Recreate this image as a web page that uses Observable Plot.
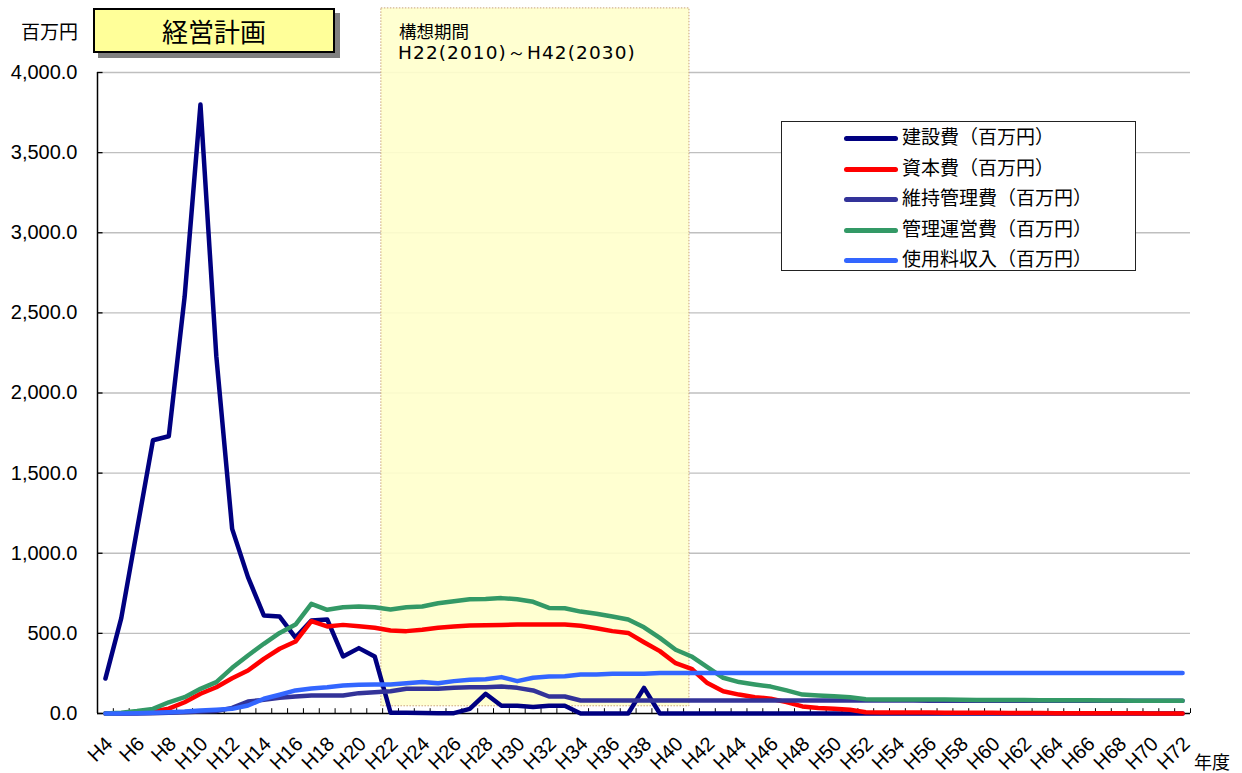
<!DOCTYPE html>
<html>
<head>
<meta charset="utf-8">
<script src="https://cdn.jsdelivr.net/npm/d3@7"></script>
<script src="https://cdn.jsdelivr.net/npm/@observablehq/plot@0.6"></script>
<style>
  body { margin: 0; background: #fff; }
  #wrap { position: relative; width: 1242px; height: 773px; overflow: hidden; font-family: "Noto Sans CJK JP", sans-serif; }
  #chart { position: absolute; left: 0; top: 0; }
  .abs { position: absolute; white-space: nowrap; }
  #titlebox { left: 93px; top: 8px; width: 238px; height: 41px; border: 2px solid #000; background: #ffff99;
    box-shadow: 5px 5px 0 #808080; font-size: 26px; line-height: 41px; text-align: center; }
  #unit { left: 21px; top: 17px; font-size: 19px; line-height: 28px; }
  #nendo { left: 1194px; top: 748px; font-size: 18px; line-height: 26px; }
  #band1 { left: 399px; top: 18px; font-size: 17.5px; line-height: 26px; }
  #band2 { left: 398px; top: 41px; font-size: 18.5px; line-height: 24px; letter-spacing: 1.1px; font-family: "DejaVu Sans", sans-serif; }
  #legend { left: 781px; top: 121px; width: 353px; height: 148px; border: 1px solid #222; background: #fff; }
  .lrow { position: absolute; left: 0; height: 30px; width: 353px; }
  .lline { position: absolute; left: 62px; width: 54px; height: 5px; border-radius: 3px; }
  .ltext { position: absolute; left: 120px; font-size: 19px; line-height: 30px; top: -2px; }
</style>
</head>
<body>
<div id="wrap">
  <div id="chart"></div>
</div>
<script>
// ---- data ----
const years = d3.range(4, 73); // H4 .. H72
const seriesNames = ["建設費（百万円）", "資本費（百万円）", "維持管理費（百万円）", "管理運営費（百万円）", "使用料収入（百万円）"];
const seriesColors = ["#000080", "#ff0000", "#333399", "#339966", "#3366ff"];

const kensetsu = [218, 595, 1150, 1705, 1730, 2600, 3800, 2230, 1152, 851, 612, 605, 474, 580, 587, 356, 408, 356,
  5, 5, 3, 2, 2, 29, 123, 48, 48, 40, 48, 48, 0, 0, 0, 0, 160, 0,
  0, 0, 0, 0, 0, 0, 0, 0, 0, 0, 0, 0, 0, 0, 0, 0, 0, 0, 0, 0, 0, 0, 0, 0, 0, 0, 0, 0, 0, 0, 0, 0, 0];
const shihon = [0, 0, 3, 12, 30, 70, 123, 164, 220, 268, 341, 404, 449, 576, 543, 553, 545, 535,
  518, 514, 522, 535, 543, 549, 551, 553, 555, 555, 555, 555, 547, 532, 514, 503, 445, 389,
  314, 279, 190, 139, 118, 102, 92, 71, 44, 35, 29, 23, 8, 7, 7, 6, 6, 5, 5, 4, 4, 3, 3, 3, 2, 2, 2, 1, 1, 1, 0, 0, 0];
const iji = [0, 0, 0, 2, 5, 8, 12, 15, 35, 75, 85, 98, 106, 112, 112, 112, 127, 133,
  139, 154, 154, 154, 160, 164, 164, 168, 160, 144, 106, 106, 81, 81, 81, 81, 81, 81,
  81, 81, 81, 81, 81, 81, 81, 81, 81, 81, 81, 81, 81, 81, 81, 81, 80, 80, 80, 80, 80, 80, 80, 80, 80, 80, 80, 80, 80, 80, 80, 80, 80];
const unei = [0, 5, 15, 29, 70, 102, 154, 196, 285, 362, 435, 503, 555, 684, 647, 663, 668, 663,
  649, 663, 668, 688, 701, 713, 715, 720, 713, 697, 659, 657, 636, 622, 605, 587, 538, 472,
  398, 356, 289, 223, 196, 181, 168, 144, 118, 112, 108, 102, 89, 88, 88, 88, 87, 87, 86, 85, 85, 84, 84, 83, 83, 82, 82, 81, 81, 80, 80, 80, 79];
const shiyoryo = [0, 0, 2, 5, 8, 12, 19, 23, 29, 50, 92, 117, 144, 156, 164, 175, 179, 181,
  181, 189, 196, 189, 202, 210, 214, 227, 202, 223, 231, 233, 243, 243, 248, 248, 248, 252,
  252, 252, 252, 252, 252, 252, 252, 252, 252, 252, 252, 252, 252, 252, 252, 252, 252, 252, 252, 252, 252, 252, 252, 252, 252, 252, 252, 252, 252, 252, 252, 252, 252];
const seriesValues = [kensetsu, shihon, iji, unei, shiyoryo];

const yTicks = [0, 500, 1000, 1500, 2000, 2500, 3000, 3500, 4000];
const xLabelYears = d3.range(4, 73, 2);
const planPeriod = [{x1: 21.42, x2: 40.87, y1: 45, y2: 4400}]; // 構想期間 box (H22–H42)

// ---- build ----
const rows = [];
seriesValues.forEach((vals, s) => vals.forEach((v, i) => rows.push({year: years[i], value: v, s})));
const catEdges = d3.range(3.5, 73, 1);

const chart = Plot.plot({
  width: 1242, height: 773,
  marginLeft: 97, marginRight: 52, marginTop: 72, marginBottom: 60,
  style: {fontFamily: "Liberation Sans, sans-serif", fontSize: "19px", color: "#000", background: "transparent", overflow: "visible"},
  x: {domain: [3.5, 72.5], axis: null},
  y: {domain: [0, 4000]},
  marks: [
    Plot.ruleY(yTicks.filter(d => d > 0), {stroke: "#bfbfbf", strokeWidth: 1.3}),
    Plot.rect(planPeriod, {x1: "x1", x2: "x2", y1: "y1", y2: "y2", fill: "#ffffcc", fillOpacity: 0.9, stroke: "#c8a27a", strokeDasharray: "1.5,1.5", strokeWidth: 1}),
    Plot.ruleX([3.5], {stroke: "#000", strokeWidth: 1.5}),
    Plot.ruleY([0], {stroke: "#000", strokeWidth: 1.5}),
    Plot.ruleY(yTicks, {x1: 3.5, x2: 3.85, stroke: "#000", strokeWidth: 1.3}),
    Plot.ruleX(catEdges, {y1: 0, y2: 30, stroke: "#000", strokeWidth: 1}),
    ...seriesValues.map((_, s) => Plot.line(rows.filter(r => r.s === s), {
      x: "year", y: "value", stroke: seriesColors[s], strokeWidth: 4.5,
      strokeLinejoin: "round", strokeLinecap: "round"
    })),
    Plot.axisY(yTicks, {tickFormat: d3.format(",.1f"), tickSize: 0, tickPadding: 20, fontSize: 20}),
    Plot.text(xLabelYears, {x: d => d, y: 0, text: d => "H" + d, rotate: -45, textAnchor: "end", lineAnchor: "middle",
      dx: 4, dy: 27, fontSize: 20, fill: "#000"})
  ]
});
document.getElementById("chart").appendChild(chart);

// overlays: title, units, band labels, legend
const wrap = document.getElementById("wrap");
function addDiv(id, text) {
  const d = document.createElement("div");
  d.className = "abs"; d.id = id; d.textContent = text; wrap.appendChild(d); return d;
}
addDiv("titlebox", "経営計画");
addDiv("unit", "百万円");
addDiv("nendo", "年度");
addDiv("band1", "構想期間");
addDiv("band2", "H22(2010)～H42(2030)");
const legend = addDiv("legend", "");
seriesNames.forEach((name, i) => {
  const row = document.createElement("div");
  row.className = "lrow";
  row.style.top = (1 + i * 30.5) + "px";
  const ln = document.createElement("div");
  ln.className = "lline"; ln.style.top = "13px"; ln.style.background = seriesColors[i];
  const tx = document.createElement("div");
  tx.className = "ltext"; tx.textContent = name;
  row.appendChild(ln); row.appendChild(tx);
  legend.appendChild(row);
});
</script>
</body>
</html>
